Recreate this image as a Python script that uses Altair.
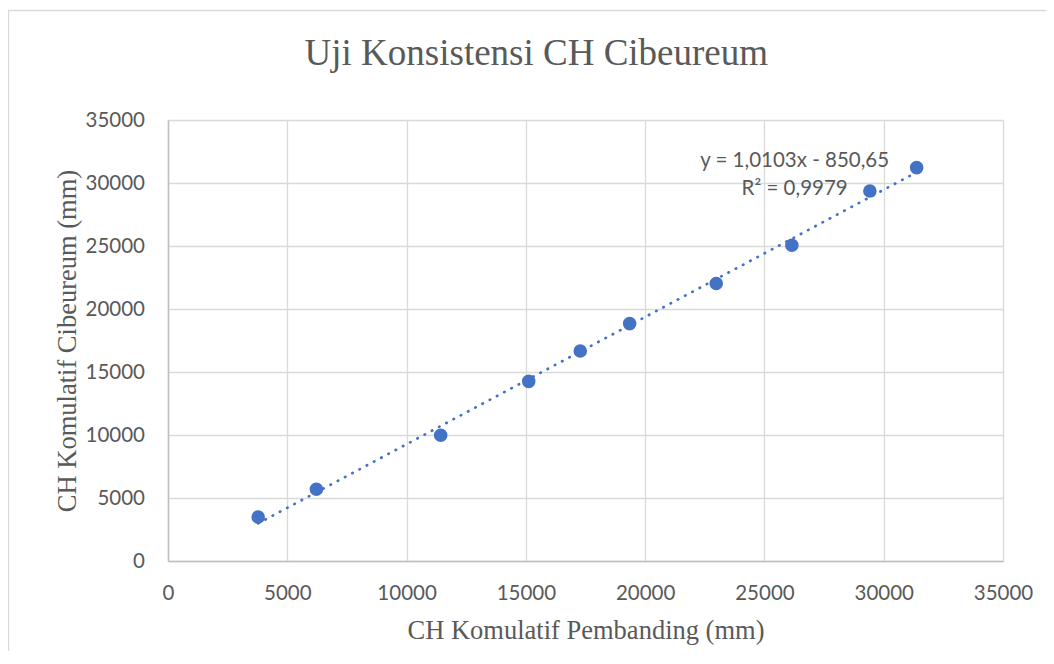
import altair as alt
import pandas as pd

# Data
x_pembanding = [3780, 6220, 11430, 15120, 17280, 19350, 22980, 26150, 29420, 31380]
y_cibeureum = [3490, 5690, 9980, 14260, 16670, 18840, 22020, 25060, 29370, 31220]
tick_values = [0, 5000, 10000, 15000, 20000, 25000, 30000, 35000]
eq_lines = ["y = 1,0103x - 850,65", "R\u00b2 = 0,9979"]
eq_pos_x = [26266]
eq_pos_y = [31270]
chart_title = "Uji Konsistensi CH Cibeureum"

df = pd.DataFrame({"x": x_pembanding, "y": y_cibeureum})
eq_df = pd.DataFrame({"x": eq_pos_x, "y": eq_pos_y})

W, H = 835, 441
BLUE = "#4472C4"
GRAY_TXT = "#595959"

xscale = alt.Scale(domain=[0, 35000], nice=False, zero=True)
yscale = alt.Scale(domain=[0, 35000], nice=False, zero=True)

x_axis = alt.Axis(
    values=tick_values, title="CH Komulatif Pembanding (mm)", ticks=False,
    labelPadding=22, labelFont="Lato", labelFontSize=20.5, labelColor=GRAY_TXT,
    labelFlush=False, labelOverlap=False,
    titleFont="Liberation Serif", titleFontSize=26.5, titleFontWeight="normal",
    titleColor=GRAY_TXT, titleBaseline="alphabetic", titleAlign="center",
    titleX=417.5, titleY=77.6, domainColor="#bfbfbf", domainWidth=1.5,
    gridColor="#d9d9d9", gridWidth=1.3, format="d",
)
y_axis = alt.Axis(
    values=tick_values, title="CH Komulatif Cibeureum (mm)", ticks=False,
    labelPadding=23.5, labelFont="Lato", labelFontSize=20.5, labelColor=GRAY_TXT,
    labelFlush=False, labelOverlap=False,
    titleFont="Liberation Serif", titleFontSize=26.5, titleFontWeight="normal",
    titleColor=GRAY_TXT, titleBaseline="alphabetic", titleAlign="center",
    titleAngle=270, titleX=-93, titleY=220.5, domainColor="#bfbfbf", domainWidth=1.5,
    gridColor="#d9d9d9", gridWidth=1.3, format="d",
)

base = alt.Chart(df)

border = alt.Chart(alt.Data(values=[{"b": 1}])).mark_rect(
    fillOpacity=0, stroke="#d9d9d9", strokeWidth=1.3
).encode(
    x=alt.value(-159.5), x2=alt.value(900), y=alt.value(-109.5), y2=alt.value(600)
)

title_mark = alt.Chart(alt.Data(values=[{"t": chart_title}])).mark_text(
    font="Liberation Serif", fontSize=37, color=GRAY_TXT,
    align="center", baseline="alphabetic",
).encode(
    text="t:N", x=alt.value(368.3), y=alt.value(-55)
)

trend = base.transform_regression("x", "y", method="linear").mark_line(
    color=BLUE, strokeWidth=2.7, strokeDash=[0.5, 7.7], strokeCap="round"
).encode(
    x=alt.X("x:Q", scale=xscale, axis=x_axis),
    y=alt.Y("y:Q", scale=yscale, axis=y_axis),
)

points = base.mark_circle(size=185, color=BLUE, opacity=1).encode(
    x=alt.X("x:Q", scale=xscale, axis=x_axis),
    y=alt.Y("y:Q", scale=yscale, axis=y_axis),
)

eq_text = alt.Chart(eq_df).mark_text(
    text=eq_lines, font="Lato", fontSize=20.5, color=GRAY_TXT,
    align="center", baseline="alphabetic", lineHeight=28.3,
).encode(
    x=alt.X("x:Q", scale=xscale, axis=x_axis),
    y=alt.Y("y:Q", scale=yscale, axis=y_axis),
)

chart = alt.layer(border, title_mark, trend, points, eq_text).properties(
    width=W, height=H,
    autosize=alt.AutoSizeParams(type="none"),
    padding={"left": 160, "top": 112, "right": 43, "bottom": 90},
).configure_view(stroke=None).configure(background="white")

chart.save("out.html", embed_options={"renderer": "svg", "actions": False})
